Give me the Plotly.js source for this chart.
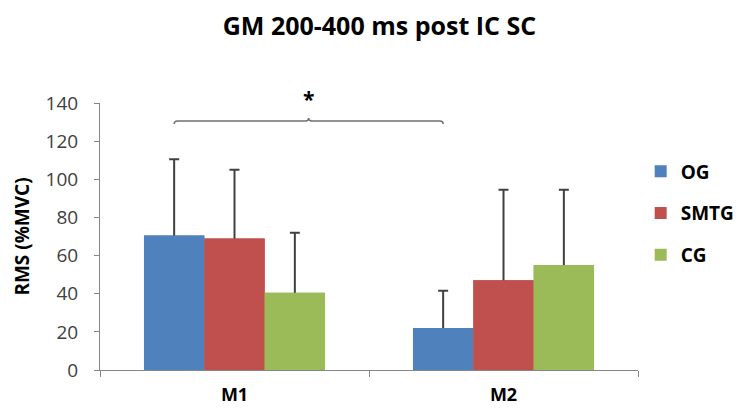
<!DOCTYPE html>
<html><head><meta charset="utf-8">
<script src="https://cdn.plot.ly/plotly-3.0.1.min.js"></script>
<style>body{margin:0;background:#fff}#c{width:744px;height:408px}</style>
</head><body><div id="c"></div>
<script>
const categories = ['M1', 'M2'];
const seriesNames = ['OG', 'SMTG', 'CG'];
const ogValues = [70.5, 22];
const smtgValues = [69, 47];
const cgValues = [40.5, 55];
const ogErr = [40, 19.5];
const smtgErr = [36, 47.5];
const cgErr = [31.5, 39.5];
const yTicks = [0, 20, 40, 60, 80, 100, 120, 140];
const colors = ['#4F81BD', '#C0504D', '#9BBB59'];

const vals = [ogValues, smtgValues, cgValues];
const errs = [ogErr, smtgErr, cgErr];
// bars with upward error bars; the lower end of each error bar sits inside the bar
const traces = seriesNames.map((n, i) => ({
  type: 'bar', name: n, x: categories, y: vals[i], offsetgroup: n,
  marker: {color: colors[i]}, legendgroup: n, showlegend: false,
  error_y: {type: 'data', array: errs[i], arrayminus: vals[i].map(v => v / 2), symmetric: false,
            color: '#404040', thickness: 2, width: 5}
}));
// same bars drawn again on top, hiding the lower part of the error bars
seriesNames.forEach((n, i) => traces.push({
  type: 'bar', name: n, x: categories, y: vals[i], offsetgroup: n,
  marker: {color: colors[i]}, legendgroup: n, showlegend: true
}));

const bgap = 0.327;
const bw = (1 - bgap) / 3;
const x0 = -bw, x1 = 1 - bw, xm = (x0 + x1) / 2;
const yb = 130.6, h = 1.6;
const path = `M ${x0},${yb - h} Q ${x0},${yb} ${x0 + 0.012},${yb} L ${xm - 0.012},${yb} Q ${xm},${yb} ${xm},${yb + h} Q ${xm},${yb} ${xm + 0.012},${yb} L ${x1 - 0.012},${yb} Q ${x1},${yb} ${x1},${yb - h}`;

const font = 'Open Sans, Liberation Sans, sans-serif';
const layout = {
  width: 744, height: 408,
  margin: {l: 100, r: 106, t: 103, b: 38, autoexpand: false},
  paper_bgcolor: '#fff', plot_bgcolor: '#fff',
  font: {family: font, color: '#000'},
  title: {text: '<b>GM 200-400 ms post IC SC</b>', font: {size: 25, color: '#000'},
          x: 0.51, xref: 'container', y: 0.935, yref: 'container', yanchor: 'middle'},
  barmode: 'group', bargap: bgap, bargroupgap: 0,
  showlegend: true,
  legend: {x: 1.005, xanchor: 'left', y: 0.815, yanchor: 'top', tracegroupgap: 14,
           font: {size: 19, color: '#000', family: font, weight: 'bold'}, itemwidth: 30},
  xaxis: {type: 'category', range: [-0.5, 1.5], showline: true, linecolor: '#868686', linewidth: 1,
          ticks: 'outside', tickson: 'boundaries', ticklen: 6, tickcolor: '#868686',
          ticklabelstandoff: 8,
          tickfont: {size: 18, color: '#000'}, tickvals: categories,
          ticktext: categories.map(c => '<b>' + c + '</b>'), showgrid: false, zeroline: false},
  yaxis: {range: [0, 140], tickvals: yTicks, showline: true, linecolor: '#868686', linewidth: 1,
          ticks: 'outside', ticklen: 5, tickcolor: '#868686', showgrid: false, zeroline: false,
          ticklabelstandoff: 12,
          tickfont: {size: 19, color: '#404040'},
          title: {text: '<b>RMS (%MVC)</b>', font: {size: 19, color: '#000'}, standoff: 10}},
  shapes: [{type: 'path', xref: 'x', yref: 'y', path: path, line: {color: '#707070', width: 1.5}}],
  annotations: [{xref: 'x', yref: 'paper', x: xm, y: 1.015, yanchor: 'middle', text: '<b>*</b>',
                 showarrow: false, font: {size: 21, color: '#000'}}]
};
Plotly.newPlot('c', traces, layout, {displayModeBar: false, staticPlot: true});
</script></body></html>
